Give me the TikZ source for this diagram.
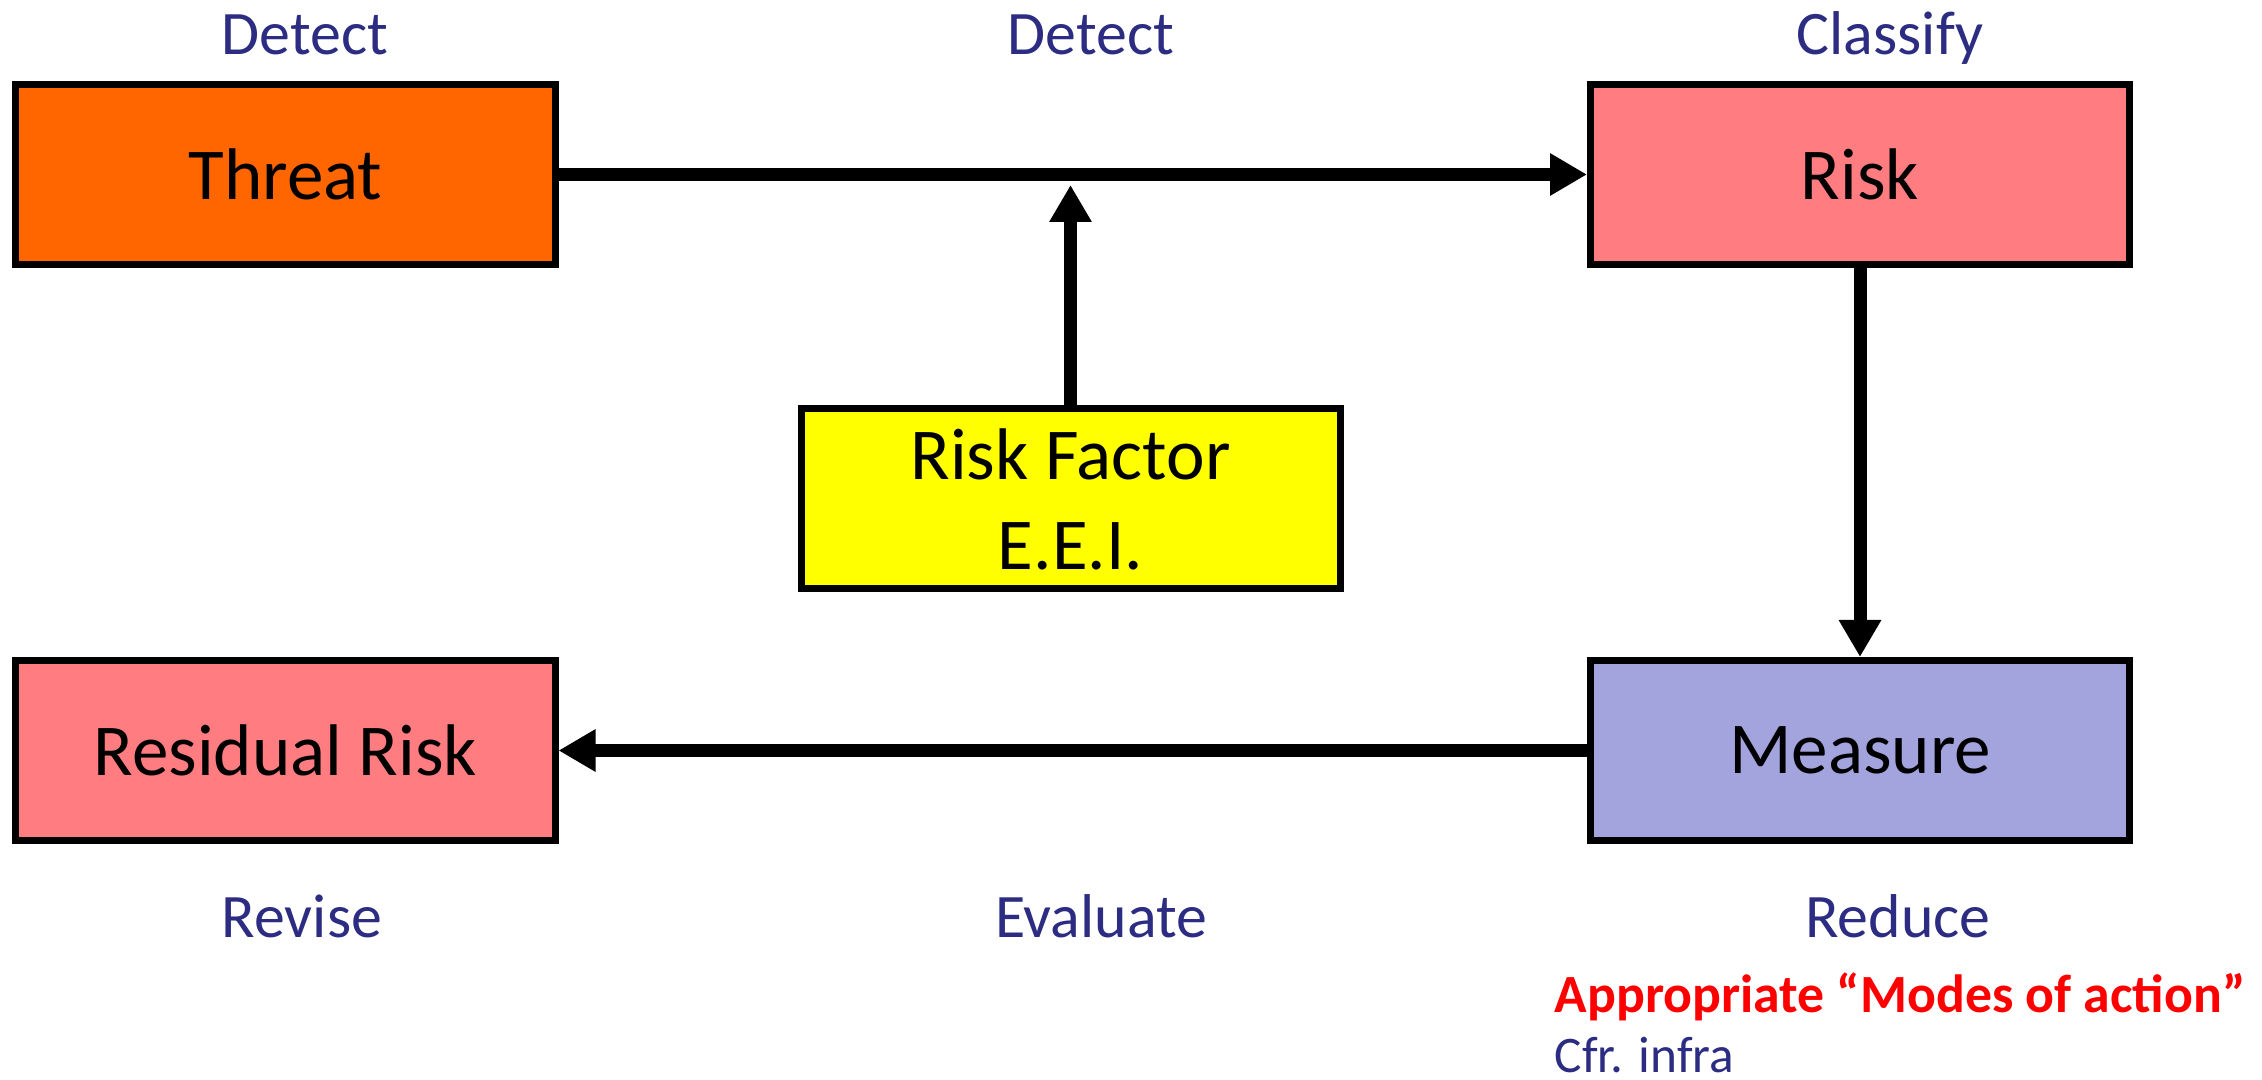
\documentclass[tikz,border=0pt]{standalone}
\usepackage{fontspec}
\setmainfont{Carlito}
\usetikzlibrary{arrows.meta}

\definecolor{threatorange}{HTML}{FF6600}
\definecolor{riskpink}{HTML}{FF7C80}
\definecolor{factoryellow}{HTML}{FFFF00}
\definecolor{measureblue}{HTML}{A3A3DE}
\definecolor{labelnavy}{HTML}{2C2C82}
\definecolor{alertred}{HTML}{FF0000}

\tikzset{
  box/.style={draw=black, line width=0.07cm, inner sep=0pt,
    minimum width=5.39cm, minimum height=1.8cm, align=center,
    font=\fontsize{20.8}{25.6}\selectfont},
  flow/.style={line width=0.13cm,
    -{Triangle[length=0.37cm, width=0.40cm]}},
  steplabel/.style={anchor=base, text=labelnavy,
    font=\fontsize{17.6}{21}\selectfont, inner sep=0pt},
  notelabel/.style={anchor=base west, inner sep=0pt,
    font=\fontsize{14.6}{17}\selectfont}
}

\begin{document}
\begin{tikzpicture}
  \useasboundingbox (0,0) rectangle (22.62,-10.8);

  % process boxes
  \node[box, fill=threatorange] (threat)   at (2.855,-1.745) {Threat};
  \node[box, fill=riskpink]     (risk)     at (18.60,-1.745) {Risk};
  \node[box, fill=factoryellow] (factor)   at (10.705,-4.99) {Risk Factor\\E.E.I.};
  \node[box, fill=riskpink]     (residual) at (2.855,-7.505) {Residual Risk};
  \node[box, fill=measureblue]  (measure)  at (18.60,-7.505) {Measure};

  % point where the risk factor meets the main flow
  \coordinate (join) at (10.705,-1.85);

  % connectors
  \draw[flow] (threat.east) -- (risk.west);
  \draw[flow] (factor.north) -- (join);
  \draw[flow] (risk.south) -- (measure.north);
  \draw[flow] (measure.west) -- (residual.east);

  % step labels
  \node[steplabel] (lbl-detect1) at (3.05,-0.55) {Detect};
  \node[steplabel] (lbl-detect2) at (10.91,-0.55) {Detect};
  \node[steplabel] (lbl-classify) at (18.90,-0.55) {Classify};
  \node[steplabel] (lbl-revise) at (3.02,-9.38) {Revise};
  \node[steplabel] (lbl-evaluate) at (11.01,-9.38) {Evaluate};
  \node[steplabel] (lbl-reduce) at (18.98,-9.38) {Reduce};

  % notes under the measure step
  \node[notelabel, text=alertred, font=\fontsize{15.3}{17}\selectfont\bfseries]
    (note-modes) at (15.54,-10.12) {Appropriate “Modes of action”};
  \node[notelabel, text=labelnavy] (note-cfr) at (15.54,-10.72) {Cfr. infra};
\end{tikzpicture}
\end{document}
